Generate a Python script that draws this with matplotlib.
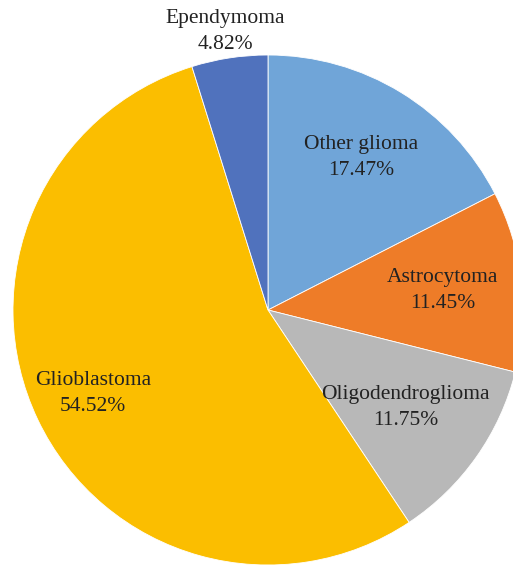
import numpy as np
import matplotlib.pyplot as plt

labels = ["Other glioma", "Astrocytoma", "Oligodendroglioma", "Glioblastoma", "Ependymoma"]
values = [17.47, 11.45, 11.75, 54.52, 4.82]
colors = ["#70A5D8", "#EE7C28", "#B8B8B8", "#FBBE00", "#5072BD"]
label_dist = [0.70, 0.69, 0.66, 0.76, 1.105]

fig = plt.figure(figsize=(5.13, 5.65), dpi=100)
ax = fig.add_axes([0, 0, 1, 1])

# pixel coordinates: centre and radius
cx, cy, r = 268, 255, 255
wedges, _ = ax.pie(values, colors=colors, startangle=90, counterclock=False,
                   center=(cx, cy), radius=r,
                   wedgeprops=dict(edgecolor="white", linewidth=0.6))

for w, lab, v, d in zip(wedges, labels, values, label_dist):
    ang = np.deg2rad((w.theta1 + w.theta2) / 2)
    x = cx + d * r * np.cos(ang)
    y = cy + d * r * np.sin(ang)
    ax.text(x, y, f"{lab}\n{v:.2f}%", ha="center", va="center",
            fontsize=15.5, family="Liberation Serif", color="#222222",
            linespacing=1.5)

ax.set_xlim(0, 513)
ax.set_ylim(0, 565)
ax.set_aspect("equal")
ax.axis("off")

fig.savefig("out.png", dpi=100)
